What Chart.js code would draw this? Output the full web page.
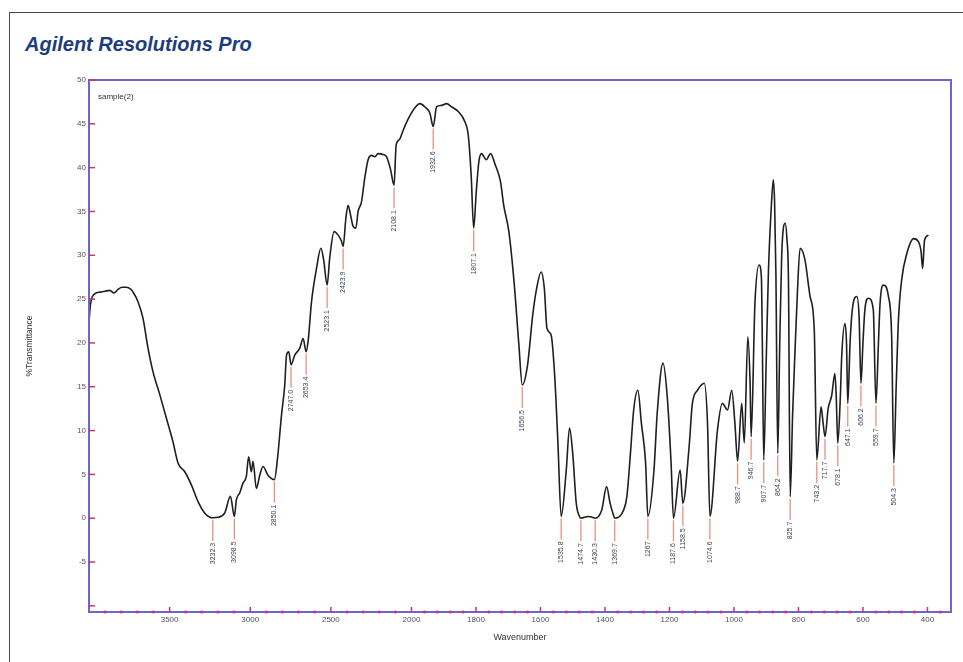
<!DOCTYPE html>
<html>
<head>
<meta charset="utf-8">
<script src="https://cdn.jsdelivr.net/npm/chart.js@4/dist/chart.umd.min.js"></script>
<style>
  html, body { margin: 0; padding: 0; background: #fff; }
  #wrap { position: relative; width: 963px; height: 662px; overflow: hidden; }
  #frame { position: absolute; left: 9px; top: 12px; width: 1000px; height: 700px;
           border-left: 1px solid #4a4a4a; border-top: 1px solid #4a4a4a; }
  #title { position: absolute; left: 25px; top: 33px; font-family: "Liberation Sans", Arial, sans-serif;
           font-size: 20px; line-height: 23px; font-weight: bold; font-style: italic; color: #1d3d7c;
           white-space: nowrap; }
  canvas { position: absolute; left: 0; top: 0; }
</style>
</head>
<body>
<div id="wrap">
  <div id="frame"></div>
  <div id="title">Agilent Resolutions Pro</div>
  <canvas id="c" width="963" height="662"></canvas>
</div>
<script>
// ---------- data ----------
const WAVENUMBERS = [
  4000, 3990, 3965, 3930, 3900, 3872, 3845, 3820, 3795, 3768, 3740, 3727, 3696, 3665, 3634, 3603,
  3561, 3520, 3479, 3448, 3406, 3365, 3324, 3283, 3250, 3232.3, 3200, 3158, 3123, 3098.5, 3086, 3065,
  3045, 3024, 3010, 2993, 2983, 2962, 2941, 2921, 2890, 2850.1, 2831, 2806, 2786, 2775, 2761, 2747.0,
  2724, 2693, 2672, 2653.4, 2641, 2620, 2589, 2562, 2545, 2523.1, 2507, 2480, 2455, 2434, 2423.9, 2407,
  2393, 2378, 2362, 2345, 2331, 2310, 2290, 2269, 2248, 2228, 2207, 2176, 2155, 2130, 2108.1, 2095,
  2075, 2055, 2030, 1990, 1974, 1959, 1943, 1932.6, 1922, 1907, 1891, 1876, 1855, 1834, 1824, 1815,
  1807.1, 1799, 1791, 1783, 1768, 1755, 1740, 1724, 1714, 1698, 1682, 1667, 1656.5, 1640, 1624, 1612,
  1598, 1588, 1580, 1567, 1556, 1546, 1535.8, 1520, 1510, 1500, 1489, 1479, 1474.7, 1452, 1442, 1430.3,
  1410, 1395, 1384, 1374, 1369.7, 1342, 1332, 1321, 1311, 1298, 1287, 1274, 1267, 1248, 1238, 1220,
  1207, 1195, 1187.6, 1167, 1158.5, 1139, 1129, 1113, 1092, 1082, 1074.6, 1051, 1036, 1020, 1007, 997,
  988.7, 976, 968, 957, 950, 946.7, 935, 922, 915, 912, 907.7, 900, 893, 885, 878, 874,
  870, 864.2, 858, 852, 841, 836, 831, 825.7, 818, 811, 803, 795, 780, 764, 751, 743.2,
  730, 724, 717.7, 708, 697, 687, 683, 678.1, 670, 666, 656, 651, 647.1, 640, 633, 619,
  612, 606.2, 600, 594, 583, 568, 559.7, 552, 547, 537, 521, 511, 504.3, 497, 490, 480,
  464, 443, 428, 420, 415, 409, 397
];
const TRANSMITTANCE = [
  22.5, 24.5, 25.6, 25.8, 25.9, 26.0, 25.7, 26.1, 26.35, 26.35, 26.1, 25.8, 24.7, 22.8, 19.4, 16.7,
  14.1, 11.4, 8.7, 6.3, 5.3, 3.8, 1.9, 0.6, 0.1, 0.05, 0.1, 0.6, 2.5, 0.2, 2.1, 2.9,
  4.0, 4.8, 7.0, 5.3, 6.5, 3.4, 4.9, 5.9, 4.9, 4.4, 6.8, 11.8, 15.2, 18.6, 19.0, 17.5,
  18.6, 19.4, 20.5, 19.0, 20.2, 24.7, 28.5, 30.8, 29.5, 26.6, 29.7, 32.7, 32.3, 31.6, 31.0, 34.2,
  35.7, 34.6, 33.3, 33.1, 35.0, 36.1, 38.8, 40.9, 41.4, 41.25, 41.6, 41.5, 41.25, 39.8, 38.0, 42.6,
  43.2, 44.1, 45.2, 46.8, 47.3, 46.95, 46.2, 44.7, 46.95, 47.1, 47.3, 46.95, 46.4, 45.2, 43.7, 39.2,
  33.1, 37.3, 40.7, 41.6, 40.9, 41.6, 40.3, 38.4, 35.7, 32.7, 27.0, 19.8, 15.2, 17.5, 23.2, 26.2,
  28.1, 26.2, 21.7, 20.9, 16.3, 8.7, 0.2, 5.5, 10.3, 7.4, 1.7, 0.2, 0.0, 0.2, 0.15, 0.0,
  0.95, 3.6, 1.7, 0.4, 0.0, 0.95, 2.5, 7.4, 12.35, 14.6, 10.8, 6.3, 0.2, 5.5, 12.0, 17.7,
  13.9, 6.3, 0.0, 5.5, 1.7, 8.2, 13.1, 14.6, 15.4, 10.8, 0.2, 10.1, 13.1, 12.35, 14.6, 10.8,
  6.5, 13.1, 8.6, 20.7, 15.4, 9.3, 24.5, 28.9, 27.5, 20.0, 6.65, 18.0, 28.3, 35.0, 38.6, 36.0,
  28.0, 7.4, 20.0, 30.0, 33.65, 32.0, 27.0, 2.46, 12.0, 18.8, 26.0, 30.8, 29.5, 25.3, 21.5, 6.65,
  12.7, 11.0, 9.3, 12.5, 14.0, 16.5, 14.0, 8.55, 14.0, 18.4, 22.2, 20.0, 13.1, 20.0, 23.8, 25.3,
  23.0, 15.4, 20.0, 23.8, 25.1, 23.8, 13.1, 20.0, 24.5, 26.6, 25.3, 20.7, 6.3, 15.0, 22.6, 27.2,
  30.2, 31.9, 31.55, 30.5, 28.5, 31.75, 32.3
];
const PEAK_WAVES = [3232.3, 3098.5, 2850.1, 2747.0, 2653.4, 2523.1, 2423.9, 2108.1, 1932.6, 1807.1,
  1656.5, 1535.8, 1474.7, 1430.3, 1369.7, 1267, 1187.6, 1158.5, 1074.6, 988.7, 946.7, 907.7, 864.2,
  825.7, 743.2, 717.7, 678.1, 647.1, 606.2, 559.7, 504.3];
const PEAK_T = [0.05, 0.2, 4.4, 17.5, 19.0, 26.6, 31.0, 38.0, 44.7, 33.1,
  15.2, 0.2, 0.0, 0.0, 0.0, 0.2, 0.0, 1.7, 0.2, 6.5, 9.3, 6.65, 7.4,
  2.46, 6.65, 9.3, 8.55, 13.1, 15.4, 13.1, 6.3];
const PEAK_LABELS = ["3232.3", "3098.5", "2850.1", "2747.0", "2653.4", "2523.1", "2423.9", "2108.1",
  "1932.6", "1807.1", "1656.5", "1535.8", "1474.7", "1430.3", "1369.7", "1267", "1187.6", "1158.5",
  "1074.6", "988.7", "946.7", "907.7", "864.2", "825.7", "743.2", "717.7", "678.1", "647.1", "606.2",
  "559.7", "504.3"];
const X_TICKS = [3500, 3000, 2500, 2000, 1800, 1600, 1400, 1200, 1000, 800, 600, 400];
const X_MINOR = [3900, 3800, 3700, 3600, 3400, 3300, 3200, 3100, 2900, 2800, 2700, 2600, 2400, 2300,
  2200, 2100, 1960, 1920, 1880, 1840, 1760, 1720, 1680, 1640, 1560, 1520, 1480, 1440, 1360, 1320,
  1280, 1240, 1160, 1120, 1080, 1040, 960, 920, 880, 840, 760, 720, 680, 640, 560, 520, 480, 440, 360];
const Y_TICKS = [-10, -5, 0, 5, 10, 15, 20, 25, 30, 35, 40, 45, 50];
const SAMPLE_NAME = "sample(2)";
const X_TITLE = "Wavenumber";
const Y_TITLE = "%Transmittance";

// ---------- axis settings ----------
const X_START = 4000, X_END = 327, X_BREAK = 2000, X_EXPAND = 2;
const Y_MIN = -10.7, Y_MAX = 50;
const AXIS_COLOR = '#6c66cc';
const TICK_COLOR = '#d6306c';
const FONT = '"Liberation Sans", Arial, sans-serif';

// Wavenumber scale with 2x expansion below 2000 cm-1
class IRScale extends Chart.LinearScale {
  _u(w) {
    return w >= X_BREAK ? (X_START - w) : (X_START - X_BREAK) + (X_BREAK - w) * X_EXPAND;
  }
  getPixelForValue(value) {
    if (value === null || value === undefined || isNaN(value)) return NaN;
    return this.getPixelForDecimal(this._u(value) / this._u(X_END));
  }
  getValueForPixel(pixel) {
    const u = this.getDecimalForPixel(pixel) * this._u(X_END);
    const b = X_START - X_BREAK;
    return u <= b ? X_START - u : X_BREAK - (u - b) / X_EXPAND;
  }
}
IRScale.id = 'irwave';
IRScale.defaults = Chart.LinearScale.defaults;
Chart.register(IRScale);

const decor = {
  id: 'irDecor',
  afterDraw(chart) {
    const {ctx, chartArea: a, scales: {x, y}} = chart;
    ctx.save();
    // frame
    ctx.strokeStyle = AXIS_COLOR;
    ctx.lineWidth = 2;
    ctx.strokeRect(a.left, a.top, a.right - a.left, a.bottom - a.top);
    // x major ticks
    ctx.strokeStyle = TICK_COLOR;
    ctx.lineWidth = 1.5;
    X_TICKS.forEach(v => {
      const px = x.getPixelForValue(v);
      ctx.beginPath(); ctx.moveTo(px, a.bottom); ctx.lineTo(px, a.bottom - 5); ctx.stroke();
    });
    // y major ticks
    Y_TICKS.forEach(v => {
      const py = y.getPixelForValue(v);
      ctx.beginPath(); ctx.moveTo(a.left, py); ctx.lineTo(a.left + 6, py); ctx.stroke();
    });
    // x minor dots
    ctx.fillStyle = TICK_COLOR;
    X_MINOR.forEach(v => {
      const px = x.getPixelForValue(v);
      ctx.beginPath(); ctx.arc(px, a.bottom, 1.6, 0, Math.PI * 2); ctx.fill();
    });
    // sample name
    ctx.fillStyle = '#333';
    ctx.font = '8px ' + FONT;
    ctx.textBaseline = 'middle';
    ctx.textAlign = 'left';
    ctx.fillText(SAMPLE_NAME, a.left + 9, a.top + 17);
    // peak labels
    ctx.font = '7px ' + FONT;
    PEAK_WAVES.forEach((w, i) => {
      const px = x.getPixelForValue(w);
      const py = y.getPixelForValue(PEAK_T[i]);
      ctx.strokeStyle = '#e8927a';
      ctx.lineWidth = 1.3;
      ctx.beginPath(); ctx.moveTo(px, py + 2); ctx.lineTo(px, py + 23); ctx.stroke();
      ctx.save();
      ctx.translate(px, py + 25);
      ctx.rotate(-Math.PI / 2);
      ctx.fillStyle = '#3c4250';
      ctx.textAlign = 'right';
      ctx.textBaseline = 'middle';
      ctx.fillText(PEAK_LABELS[i], 0, 0);
      ctx.restore();
    });
    ctx.restore();
  }
};

new Chart(document.getElementById('c'), {
  type: 'line',
  data: {
    datasets: [{
      data: WAVENUMBERS.map((w, i) => ({x: w, y: TRANSMITTANCE[i]})),
      borderColor: '#1f1f1f',
      borderWidth: 1.6,
      pointRadius: 0,
      cubicInterpolationMode: 'monotone',
      fill: false
    }]
  },
  options: {
    responsive: false,
    animation: false,
    devicePixelRatio: 1,
    layout: { padding: { left: 0, right: 12, top: 80, bottom: 0 } },
    plugins: { legend: { display: false }, tooltip: { enabled: false } },
    scales: {
      x: {
        type: 'irwave',
        min: X_END,
        max: X_START,
        grid: { display: false, drawTicks: false },
        border: { display: false },
        afterBuildTicks: s => { s.ticks = X_TICKS.map(v => ({value: v})); },
        afterFit: s => { s.height = 50; },
        ticks: {
          autoSkip: false, maxRotation: 0, padding: 3,
          color: '#555', font: { size: 8, family: FONT },
          callback: v => String(v)
        },
        title: {
          display: true, text: X_TITLE, color: '#333',
          font: { size: 9, family: FONT }, padding: { top: 0, bottom: 18.6 }
        }
      },
      y: {
        type: 'linear',
        min: Y_MIN,
        max: Y_MAX,
        grid: { display: false, drawTicks: false },
        border: { display: false },
        afterBuildTicks: s => { s.ticks = Y_TICKS.map(v => ({value: v})); },
        afterFit: s => { s.width = 89; },
        ticks: {
          padding: 3, color: '#555', font: { size: 8, family: FONT },
          callback: v => (v === -10 ? '' : String(v))
        },
        title: {
          display: true, text: Y_TITLE, color: '#333',
          font: { size: 8.5, family: FONT }, padding: { top: 25, bottom: 0 }
        }
      }
    }
  },
  plugins: [decor]
});
</script>
</body>
</html>
